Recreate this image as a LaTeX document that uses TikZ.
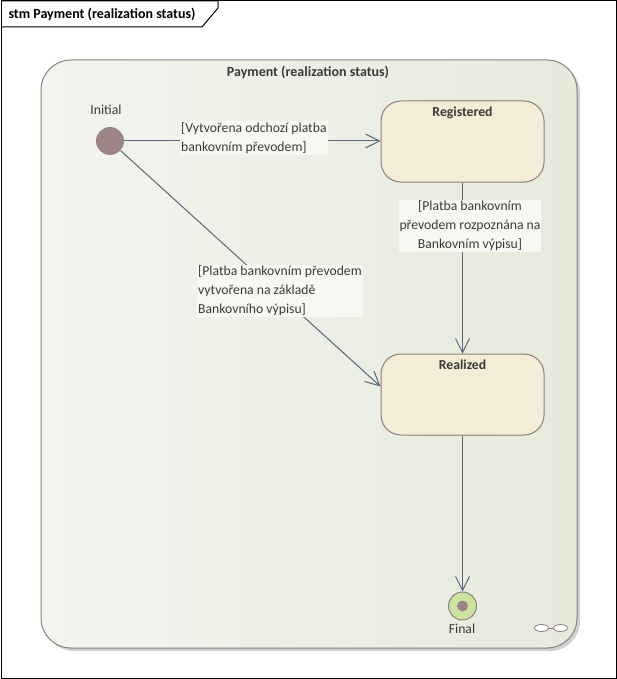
\documentclass[tikz,border=0pt]{standalone}
\usepackage{fontspec}
\setmainfont{Carlito}
\usetikzlibrary{arrows.meta}
\definecolor{edgegray}{HTML}{5C6478}
\definecolor{stateline}{HTML}{8E7E7E}
\definecolor{statefill}{HTML}{F5ECD8}
\definecolor{dotfill}{HTML}{9E8585}
\definecolor{finalfill}{HTML}{CCE2A0}
\definecolor{boxleft}{HTML}{F4F4EF}
\definecolor{boxright}{HTML}{E5EADB}
\definecolor{labelfill}{HTML}{F8F8F2}
\definecolor{txt}{HTML}{3A3A3A}
\tikzset{
  state/.style={draw=stateline, fill=statefill, line width=1pt, rounded corners=20pt,
    minimum width=163pt, minimum height=81pt},
  trans/.style={draw=edgegray, line width=1pt, -{Straight Barb[length=14pt,width=14pt,line width=1pt]}},
  guard/.style={fill=labelfill, text=txt, inner sep=1pt, font=\fontsize{13.7}{19}\selectfont},
  caption/.style={text=txt, font=\fontsize{13.7}{16}\selectfont},
}
\begin{document}
\begin{tikzpicture}[x=1pt,y=-1pt]
  \useasboundingbox (0,0) rectangle (617,679);
  \draw[line width=1pt] (1,1) rectangle (616,678);
  \draw[line width=1pt] (1,1) -- (218,1) -- (218,8) -- (202,27) -- (1,27);
  \node[anchor=west, font=\fontsize{14}{16}\selectfont\bfseries] at (5,14) {stm Payment (realization status)};

  % composite state
  \fill[black!18, rounded corners=30pt] (44,63) rectangle (580,651);
  \shade[left color=boxleft, right color=boxright, rounded corners=30pt] (41,60) rectangle (577,648);
  \draw[stateline, line width=1pt, rounded corners=30pt] (41,60) rectangle (577,648);
  \node[caption, font=\fontsize{14}{16}\selectfont\bfseries] at (308,72) {Payment (realization status)};

  % states
  \node[circle, fill=dotfill, minimum size=28pt, inner sep=0pt] (init) at (110,141) {};
  \node[caption] at (106,110) {Initial};

  \node[state, label={[caption, anchor=north, yshift=-3pt, font=\fontsize{13.7}{16}\selectfont\bfseries]north:Registered}] (reg) at (462.5,141.5) {};
  \node[state, label={[caption, anchor=north, yshift=-3pt, font=\fontsize{13.7}{16}\selectfont\bfseries]north:Realized}] (real) at (462.5,394.5) {};

  \node[circle, draw=stateline, fill=finalfill, line width=1pt, minimum size=28pt, inner sep=0pt] (final) at (462.5,606) {};
  \node[circle, fill=dotfill, minimum size=11pt, inner sep=0pt] at (final) {};
  \node[caption] at (462,629) {Final};

  % transitions
  \draw[trans] (init) -- (init -| reg.west);
  \draw[trans] (init) -- ([yshift=8pt]real.west);
  \draw[trans] (reg) -- (real);
  \draw[trans] (real) -- (final);

  \node[guard, align=left, anchor=west] at (180,138) {[Vytvořena odchozí platba\\bankovním převodem]};
  \node[guard, align=left, anchor=west] at (197,291) {[Platba bankovním převodem\\vytvořena na základě\\Bankovního výpisu]};
  \node[guard, align=center] at (470,226) {[Platba bankovním\\převodem rozpoznána na\\Bankovním výpisu]};

  % composite icon
  \draw[stateline, fill=white, line width=0.8pt] (541.5,628) ellipse (7pt and 3.5pt);
  \draw[stateline, fill=white, line width=0.8pt] (560.5,628) ellipse (7pt and 3.5pt);
  \draw[stateline, line width=0.8pt] (548.5,628) -- (553.5,628);
\end{tikzpicture}
\end{document}
